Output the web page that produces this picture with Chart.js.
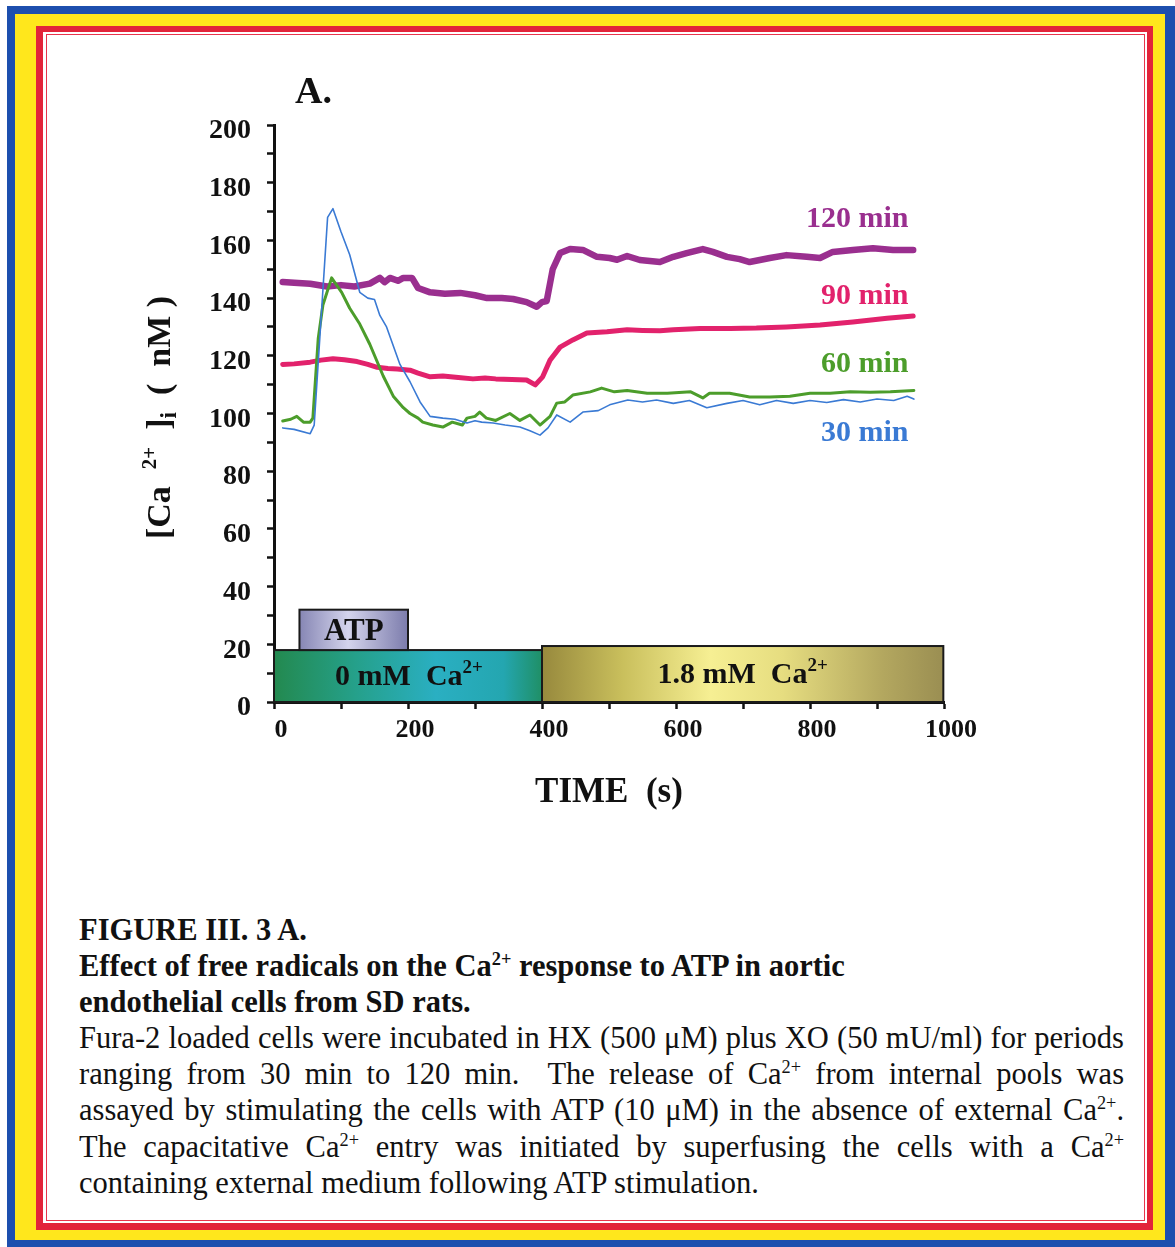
<!DOCTYPE html>
<html lang="en">
<head>
<meta charset="UTF-8" />
<title>Figure III.3 A - Ca2+ response to ATP</title>
<script src="https://cdn.jsdelivr.net/npm/chart.js@4.4.1/dist/chart.umd.min.js"></script>
<style>
  body {
    margin: 0;
    width: 1175px;
    height: 1247px;
    position: relative;
    overflow: hidden;
    background: #fff;
    font-family: "Liberation Serif", "Times New Roman", serif;
    color: #111;
  }
  .blue { position: absolute; left: 7px; top: 6px; width: 1168px; height: 1241px; background: #1d4fae; }
  .yellow { position: absolute; left: 15px; top: 14px; width: 1150px; height: 1226px; background: #ffe71c; }
  .red { position: absolute; left: 36px; top: 26px; width: 1117px; height: 1204px; background: #e2243a; }
  .gap { position: absolute; left: 43px; top: 32px; width: 1104px; height: 1191px; background: #fff; }
  .thin {
    position: absolute; left: 46px; top: 34px; width: 1099px; height: 1187px;
    box-sizing: border-box; border: 1.5px solid #e8354c; background: #fff;
  }
  #wrap { position: absolute; left: 0; top: 0; width: 1175px; height: 860px; }
  .caption {
    position: absolute;
    left: 79px;
    top: 912px;
    width: 1045px;
    font-size: 30.5px;
    line-height: 36.1px;
  }
  .caption div { white-space: nowrap; }
  .caption .b { font-weight: bold; }
  .caption .j { text-align: justify; text-align-last: justify; white-space: normal; }
  sup { font-size: 0.6em; vertical-align: 0.6em; line-height: 0; }
</style>
</head>
<body>
<div class="blue"></div>
<div class="yellow"></div>
<div class="red"></div>
<div class="gap"></div>
<div class="thin"></div>

<div id="wrap"><canvas id="myChart"></canvas></div>

<div class="caption">
  <div class="b">FIGURE III. 3 A.</div>
  <div class="b">Effect of free radicals on the Ca<sup>2+</sup> response to ATP in aortic</div>
  <div class="b">endothelial cells from SD rats.</div>
  <div class="j">Fura-2 loaded cells were incubated in HX (500 μM) plus XO (50 mU/ml) for periods</div>
  <div class="j">ranging from 30 min to 120 min.&nbsp; The release of Ca<sup>2+</sup> from internal pools was</div>
  <div class="j">assayed by stimulating the cells with ATP (10 μM) in the absence of external Ca<sup>2+</sup>.</div>
  <div class="j">The capacitative Ca<sup>2+</sup> entry was initiated by superfusing the cells with a Ca<sup>2+</sup></div>
  <div>containing external medium following ATP stimulation.</div>
</div>

<script>
// [Ca2+]i traces (nM) against time (s), one pair of arrays per incubation time
const t30 = [13, 30, 54, 60, 80, 88, 100, 113, 128, 140, 150, 158, 168, 188, 203, 218, 233, 252, 270, 288, 300, 310,
  327, 345, 367, 382, 397, 409, 422, 442, 461, 484, 501, 528, 550, 571, 596, 620, 646, 676, 700, 725, 750, 775, 800,
  825, 850, 875, 900, 925, 945, 955];
const ca30 = [95, 94.5, 93, 96, 168, 171, 163, 155, 142, 140, 139.5, 134, 130, 117, 111, 104, 99, 98.4, 98, 96.7,
  97.5, 97, 96.7, 96, 95.3, 94, 92.5, 95, 99.5, 97, 100.5, 101, 103, 104.7, 104, 104.7, 103.5, 104.5, 102, 103.5,
  104.5, 103, 104.5, 103.5, 104.5, 103.8, 104.8, 104, 105, 104.5, 106, 105];

const t60 = [13, 25, 34, 44, 54, 58, 66, 73, 86, 101, 113, 128, 143, 163, 178, 193, 203, 215, 222, 237, 252, 266,
  281, 288, 300, 307, 317, 331, 352, 367, 382, 397, 412, 422, 434, 446, 472, 489, 508, 527, 557, 587, 622, 640, 650,
  680, 710, 740, 770, 800, 830, 860, 890, 920, 955];
const ca60 = [97.4, 98, 99, 97, 97, 98.4, 126, 137.6, 147, 142, 136.5, 131, 124, 113, 106, 102, 100, 98.4, 97, 96,
  95.3, 97, 96, 98.4, 99, 100.5, 98.4, 97.6, 100, 97.6, 99.5, 96, 99, 103.6, 104, 106.4, 107.5, 108.8, 107.5, 108,
  107, 107, 107.5, 105.4, 107, 107, 105.7, 105.7, 106, 107, 107, 107.5, 107.4, 107.5, 108];

const t90 = [13, 30, 54, 70, 88, 105, 124, 140, 154, 170, 184, 203, 215, 233, 252, 275, 297, 315, 331, 355, 377,
  390, 401, 412, 427, 446, 467, 497, 527, 550, 576, 596, 636, 681, 720, 765, 815, 864, 915, 954];
const ca90 = [117, 117.2, 117.8, 118.5, 119, 118.6, 118, 117, 116, 115.6, 115.4, 115, 114, 112.7, 113, 112.5, 112,
  112.3, 112, 111.8, 111.6, 109.9, 112.7, 118.5, 123, 125.5, 127.9, 128.3, 129, 128.8, 128.7, 129, 129.5, 129.5,
  129.6, 130, 130.7, 131.7, 133, 133.8];

const t120 = [13, 30, 54, 79, 100, 120, 143, 158, 165, 173, 185, 193, 206, 215, 233, 255, 278, 300, 318, 340, 357,
  377, 392, 400, 407, 416, 427, 442, 461, 482, 501, 512, 527, 546, 576, 596, 616, 640, 655, 676, 695, 710, 740, 765,
  795, 815, 834, 864, 894, 924, 954];
const ca120 = [145.6, 145.3, 145, 144, 144.5, 144, 145, 147, 145.5, 147, 146, 147, 147, 143.5, 142, 141.5, 141.8,
  141, 140, 140, 139.7, 138.6, 137, 138.6, 139, 150, 155.6, 157, 156.7, 154.3, 153.9, 153.3, 154.6, 153.2, 152.5,
  154.3, 155.6, 157, 156, 154.3, 153.5, 152.5, 153.9, 154.9, 154.3, 153.9, 156, 156.7, 157.3, 156.7, 156.7];

const seriesNames = ["30 min", "60 min", "90 min", "120 min"];
const seriesTimes = [t30, t60, t90, t120];
const seriesValues = [ca30, ca60, ca90, ca120];
const seriesColors = ["#3a7ad4", "#4c9d2b", "#e2226c", "#9a2f8f"];
const seriesWidths = [1.6, 3, 5, 6.5];
// where each name is written: level on the y scale, right edge on the time scale
const nameLevels = [93, 117, 140.7, 167.4];
const nameTime = 947;

// superfusion phases along the bottom of the plot
const phaseLabels = ["0 mM", "1.8 mM"];
const phaseFrom = [0, 400];
const phaseTo = [403, 999];
const phaseTop = [18, 19.4];
const atpFrom = 38;
const atpTo = 200;
const atpRange = [18, 32];

const xTickLabels = { 0: "0", 200: "200", 400: "400", 600: "600", 800: "800", 1000: "1000" };
const yTickLabels = { 0: "0", 20: "20", 40: "40", 60: "60", 80: "80", 100: "100", 120: "120", 140: "140",
  160: "160", 180: "180", 200: "200" };

const serif = "'Liberation Serif', 'Times New Roman', serif";

// draws a list of text pieces (with optional size/offset for sup/subscripts)
function drawRuns(ctx, runs, x, y, align) {
  let total = 0;
  runs.forEach((r) => {
    ctx.font = "bold " + r.size + "px " + serif;
    r.w = ctx.measureText(r.t).width;
    total += r.w;
  });
  let cx = align === "right" ? x - total : align === "center" ? x - total / 2 : x;
  runs.forEach((r) => {
    ctx.font = "bold " + r.size + "px " + serif;
    ctx.textAlign = "left";
    ctx.fillText(r.t, cx, y + (r.dy || 0));
    cx += r.w;
  });
}

const annotate = {
  id: "annotate",
  afterDatasetsDraw(chart) {
    const { ctx, chartArea } = chart;
    const x = chart.scales.x;
    const y = chart.scales.y;
    ctx.save();
    ctx.textBaseline = "middle";

    // phase boxes
    const phaseFills = [
      [[0, "#23894f"], [0.3, "#25a08a"], [0.6, "#2aafc2"], [0.85, "#24a6b0"], [1, "#1f8e62"]],
      [[0, "#97893d"], [0.2, "#c9bf5c"], [0.42, "#f6ef93"], [0.6, "#e6dd80"], [0.85, "#b3a75f"], [1, "#9a8e52"]],
    ];
    phaseLabels.forEach((name, i) => {
      const x0 = x.getPixelForValue(phaseFrom[i]);
      const x1 = x.getPixelForValue(phaseTo[i]);
      const y0 = y.getPixelForValue(phaseTop[i]);
      const y1 = y.getPixelForValue(0);
      const g = ctx.createLinearGradient(x0, 0, x1, 0);
      phaseFills[i].forEach((s) => g.addColorStop(s[0], s[1]));
      ctx.fillStyle = g;
      ctx.fillRect(x0, y0, x1 - x0, y1 - y0);
      ctx.strokeStyle = "#1a1a1a";
      ctx.lineWidth = 2;
      ctx.strokeRect(x0, y0, x1 - x0, y1 - y0);
      ctx.fillStyle = "#111";
      drawRuns(ctx, [
        { t: name + "  Ca", size: 30 },
        { t: "2+", size: 19, dy: -9 },
      ], (x0 + x1) / 2, (y0 + y1) / 2 + 1, "center");
    });

    // ATP application
    const ax0 = x.getPixelForValue(atpFrom);
    const ax1 = x.getPixelForValue(atpTo);
    const ay0 = y.getPixelForValue(atpRange[1]);
    const ay1 = y.getPixelForValue(atpRange[0]);
    const ag = ctx.createLinearGradient(ax0, 0, ax1, 0);
    ag.addColorStop(0, "#8686b4");
    ag.addColorStop(0.45, "#d4d4ec");
    ag.addColorStop(1, "#7c7cac");
    ctx.fillStyle = ag;
    ctx.fillRect(ax0, ay0, ax1 - ax0, ay1 - ay0);
    ctx.strokeStyle = "#1a1a1a";
    ctx.lineWidth = 2;
    ctx.strokeRect(ax0, ay0, ax1 - ax0, ay1 - ay0);
    ctx.fillStyle = "#111";
    drawRuns(ctx, [{ t: "ATP", size: 31 }], (ax0 + ax1) / 2, (ay0 + ay1) / 2 + 2, "center");

    // trace names
    seriesNames.forEach((name, i) => {
      ctx.fillStyle = seriesColors[i];
      drawRuns(ctx, [{ t: name, size: 30 }], x.getPixelForValue(nameTime), y.getPixelForValue(nameLevels[i]), "right");
    });

    // panel letter
    ctx.fillStyle = "#111";
    drawRuns(ctx, [{ t: "A.", size: 38 }], chartArea.left + 21, chartArea.top - 32, "left");

    // y axis title, rotated
    ctx.translate(chartArea.left - 113, (chartArea.top + chartArea.bottom) / 2 + 4);
    ctx.rotate(-Math.PI / 2);
    drawRuns(ctx, [
      { t: "[Ca  ", size: 34 },
      { t: "2+", size: 21, dy: -10 },
      { t: "  ]", size: 34 },
      { t: "i", size: 23, dy: 9 },
      { t: "  (  nM )", size: 34 },
    ], 0, 0, "center");
    ctx.restore();
  },
};

const datasets = seriesNames.map((name, i) => ({
  label: name,
  data: seriesTimes[i].map((t, k) => ({ x: t, y: seriesValues[i][k] })),
  borderColor: seriesColors[i],
  backgroundColor: seriesColors[i],
  borderWidth: seriesWidths[i],
  pointRadius: 0,
  tension: 0,
  borderJoinStyle: "round",
  borderCapStyle: "round",
}));

const ctx = document.getElementById("myChart").getContext("2d");
const myChart = new Chart(ctx, {
  type: "line",
  data: { datasets: datasets },
  options: {
    responsive: true,
    maintainAspectRatio: false,
    animation: false,
    layout: { padding: { left: 140, top: 125, right: 231, bottom: 0 } },
    scales: {
      x: {
        type: "linear",
        min: 0,
        max: 1000,
        afterFit: (s) => { s.height = 158; },
        border: { color: "#111", width: 3 },
        grid: { drawOnChartArea: false, color: "#111", tickLength: 7, tickWidth: 2.5 },
        ticks: {
          stepSize: 100,
          autoSkip: false,
          maxRotation: 0,
          padding: 6,
          labelOffset: 7,
          color: "#111",
          font: { family: serif, size: 26, weight: "bold" },
          callback: (v) => xTickLabels[v] || "",
        },
        title: {
          display: true,
          text: "TIME  (s)",
          color: "#111",
          font: { family: serif, size: 35, weight: "bold" },
          padding: { top: 0, bottom: 46 },
        },
      },
      y: {
        min: 0,
        max: 200,
        afterFit: (s) => { s.width = 134; },
        border: { color: "#111", width: 3 },
        grid: { drawOnChartArea: false, color: "#111", tickLength: 7, tickWidth: 2.5 },
        ticks: {
          stepSize: 10,
          autoSkip: false,
          padding: 16,
          labelOffset: 6,
          color: "#111",
          font: { family: serif, size: 28, weight: "bold" },
          callback: (v) => yTickLabels[v] || "",
        },
      },
    },
    plugins: {
      legend: { display: false },
      tooltip: { enabled: false },
    },
  },
  plugins: [annotate],
});
</script>
</body>
</html>
